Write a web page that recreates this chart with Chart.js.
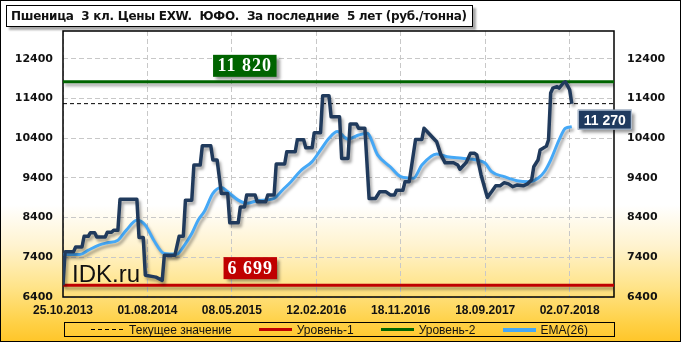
<!DOCTYPE html>
<html>
<head>
<meta charset="utf-8">
<script src="https://cdn.jsdelivr.net/npm/chart.js@4.4.1/dist/chart.umd.min.js"></script>
<style>
  html, body { margin: 0; padding: 0; }
  #wrap {
    position: relative; width: 681px; height: 342px; box-sizing: border-box;
    border: 1px solid #000; overflow: hidden;
    background: linear-gradient(to bottom, #fff 0%, #fff 60%, #fff3cf 72%, #ffe48a 84%, #ffd24a 94%, #ffc62a 100%);
    font-family: "Liberation Sans", Arial, sans-serif;
  }
  #chart { position: absolute; left: -1px; top: -1px; }
  #title {
    position: absolute; left: 5px; top: 4px; width: 467px; height: 22px; box-sizing: border-box;
    border: 1px solid #000; background: #fff; box-shadow: 3px 3px 2px rgba(0,0,0,0.35);
    font: bold 12px "DejaVu Sans", Verdana, sans-serif; letter-spacing: -0.3px; line-height: 20px; padding-left: 4px;
    white-space: pre; color: #111;
  }
  #legend {
    position: absolute; left: 63px; top: 321px; width: 551px; height: 15px; box-sizing: border-box;
    border: 1px solid #000; display: flex; align-items: center; justify-content: center; gap: 27px;
    font: 12px "Liberation Sans", Arial, sans-serif; color: #111;
  }
  .item { display: flex; align-items: center; gap: 5px; }
  .sample { width: 33px; }
</style>
</head>
<body>
<div id="wrap">
  <canvas id="chart" width="681" height="342"></canvas>
  <div id="title"></div>
  <div id="legend"></div>
</div>
<script>
const titleText = "Пшеница  3 кл. Цены EXW.  ЮФО.  За последние  5 лет (руб./тонна)";

// weekly index -> price (only the turning points of the line)
const priceIdx = [0, 1, 5, 6, 9, 10, 12, 13, 15, 16, 20, 21, 23, 24, 26, 27, 35, 36, 38, 39, 44, 47, 48, 53, 55, 57, 58, 61, 62, 65,
  66, 70, 71, 73, 75, 78, 79, 83, 84, 86, 87, 91, 92, 96, 97, 100, 101, 105, 106, 110, 111, 114, 115, 118, 119, 122, 123, 126, 127, 131,
  132, 135, 136, 139, 140, 143, 145, 148, 150, 153, 155, 157, 158, 161, 162, 164, 167, 170, 171, 174, 177, 179, 181, 185, 187, 188, 190, 191, 193, 195,
  196, 198, 201, 203, 205, 207, 209, 211, 213, 215, 218, 220, 222, 223, 225, 226, 229, 230, 231, 232, 234, 235, 237, 238, 240, 241];
const priceVal = [6699, 7540, 7540, 7660, 7660, 7930, 7930, 8020, 8020, 7910, 7910, 8030, 8030, 8080, 8080, 8860, 8860, 7900, 7900, 6950, 6900, 6820, 7450, 7450, 7930, 7930, 8840, 8840, 9725, 9725,
  10210, 10210, 9850, 9850, 9010, 9010, 8270, 8270, 8670, 8670, 8970, 8970, 8800, 8800, 8970, 8970, 9750, 9750, 10060, 10060, 10360, 10360, 10160, 10160, 10540, 10540, 11470, 11470, 10940, 10940,
  9890, 9890, 10760, 10760, 10650, 10650, 8880, 8880, 9050, 9050, 8970, 8970, 9090, 9090, 9300, 9300, 10370, 10370, 10650, 10480, 10310, 9980, 9780, 9780, 9725, 9620, 9730, 9790, 10020, 10020,
  9980, 9480, 8910, 9050, 9200, 9200, 9280, 9250, 9180, 9220, 9200, 9250, 9350, 9680, 9850, 10100, 10200, 10360, 11540, 11660, 11700, 11660, 11790, 11820, 11620, 11270];

const emaIdx = [0, 8, 12, 17, 21, 26, 30, 35, 39, 43, 48, 54, 57, 61, 64, 67, 71, 75, 78, 83, 87, 92, 100, 104, 108, 113, 118, 122, 126, 130,
  133, 135, 140, 144, 149, 155, 160, 166, 170, 177, 182, 189, 196, 200, 203, 209, 215, 221, 225, 228, 231, 235, 238, 241];
const emaVal = [7470, 7470, 7580, 7705, 7765, 7830, 8085, 8335, 8210, 7830, 7495, 7480, 7665, 8000, 8335, 8560, 9010, 9160, 9050, 8840, 8760, 8825, 8885, 9095, 9305, 9600, 9810, 10105, 10400, 10570,
  10440, 10375, 10480, 10525, 9980, 9680, 9430, 9390, 9725, 10005, 9935, 9895, 9850, 9770, 9555, 9430, 9330, 9305, 9390, 9555, 9850, 10360, 10650, 10690];

const level1 = 6699;
const level2 = 11820;
const currentValue = 11270;

const xTickIdx = [0, 40, 80, 120, 160, 200, 240];
const xTickLabels = ["25.10.2013", "01.08.2014", "08.05.2015", "12.02.2016", "18.11.2016", "18.09.2017", "02.07.2018"];
const yTicks = [6400, 7400, 8400, 9400, 10400, 11400, 12400];

const legendLabels = ["Текущее значение", "Уровень-1", "Уровень-2", "EMA(26)"];
const legendColors = ["#000000", "#c00000", "#006400", "#45a8f6"];

const X_MAX = 261;
const Y_MIN = 6400;
const Y_MAX = 13100;

const fmt = v => String(v).replace(/\B(?=(\d{3})+(?!\d))/g, " ");

document.getElementById("title").textContent = titleText;

// html legend
const legendEl = document.getElementById("legend");
legendLabels.forEach((label, i) => {
  const item = document.createElement("div");
  item.className = "item";
  const sample = document.createElement("div");
  sample.className = "sample";
  if (i === 0) {
    sample.style.height = "1px";
    sample.style.background = "repeating-linear-gradient(to right, #000 0 4px, transparent 4px 7px)";
  } else {
    sample.style.height = i === 3 ? "4px" : "3px";
    sample.style.background = legendColors[i];
  }
  const text = document.createElement("span");
  text.textContent = label;
  item.appendChild(sample);
  item.appendChild(text);
  legendEl.appendChild(item);
});

const shadowPlugin = {
  id: "shadow",
  beforeDatasetDraw(chart, args) {
    const ds = chart.data.datasets[args.index];
    chart.ctx.save();
    if (ds.shadow) {
      chart.ctx.shadowColor = "rgba(0, 0, 0, 0.35)";
      chart.ctx.shadowOffsetX = 2;
      chart.ctx.shadowOffsetY = 3;
      chart.ctx.shadowBlur = 3;
    }
  },
  afterDatasetDraw(chart) {
    chart.ctx.restore();
  },
};

const framePlugin = {
  id: "frame",
  beforeDatasetsDraw(chart) {
    const { ctx, chartArea: a } = chart;
    ctx.save();
    ctx.font = "24px 'Liberation Sans', Arial, sans-serif";
    ctx.fillStyle = "#111";
    ctx.textBaseline = "alphabetic";
    ctx.fillText("IDK.ru", a.left + 9, a.bottom - 15);
    ctx.strokeStyle = "#000";
    ctx.lineWidth = 1.5;
    ctx.strokeRect(a.left, a.top, a.right - a.left, a.bottom - a.top);
    ctx.restore();
  },
};

function drawTag(ctx, x, y, text, fill, font, spacing, padX, h) {
  ctx.save();
  ctx.font = font;
  ctx.letterSpacing = spacing;
  const w = ctx.measureText(text).width + padX * 2;
  ctx.shadowColor = "rgba(0, 0, 0, 0.4)";
  ctx.shadowOffsetX = 3;
  ctx.shadowOffsetY = 3;
  ctx.shadowBlur = 3;
  ctx.fillStyle = fill;
  ctx.fillRect(x, y, w, h);
  ctx.shadowColor = "transparent";
  ctx.fillStyle = "#fff";
  ctx.textBaseline = "middle";
  ctx.fillText(text, x + padX, y + h / 2 + 1);
  ctx.restore();
  return w;
}

const tagsPlugin = {
  id: "tags",
  afterDatasetsDraw(chart) {
    const { ctx, scales: { x, y } } = chart;
    const serif = "bold 18px 'Liberation Serif', 'Times New Roman', serif";
    // level-2 tag
    let w = 63;
    drawTag(ctx, x.getPixelForValue(86) - w / 2, y.getPixelForValue(level2) - 27, fmt(level2), "#006400", serif, "1px", 4.5, 22);
    // level-1 tag
    w = 53;
    drawTag(ctx, x.getPixelForValue(88.6) - w / 2, y.getPixelForValue(level1) - 28, fmt(level1), "#c00000", serif, "1px", 4, 22);
    // current value tag
    const lastX = x.getPixelForValue(priceIdx[priceIdx.length - 1]);
    const ty = y.getPixelForValue(currentValue) + 6;
    const tw = drawTag(ctx, lastX + 6, ty, fmt(currentValue), "#1f3a5f", "bold 14px 'Liberation Sans', Arial, sans-serif", "0px", 6, 20);
    ctx.save();
    ctx.strokeStyle = "#c8d4e4";
    ctx.lineWidth = 1;
    ctx.strokeRect(lastX + 6.5, ty + 0.5, tw - 1, 19);
    ctx.restore();
  },
};

const gridColor = "#c8c8c8";
const tickFont = { family: "'DejaVu Sans', Verdana, sans-serif", weight: "bold", size: 11 };
const setYTicks = scale => { scale.ticks = yTicks.map(v => ({ value: v })); };

const ctx = document.getElementById("chart").getContext("2d");
new Chart(ctx, {
  type: "line",
  data: {
    datasets: [
      {
        label: "price",
        data: priceIdx.map((v, i) => ({ x: v, y: priceVal[i] })),
        borderColor: "#203a5c",
        borderWidth: 3.5,
        pointRadius: 0,
        tension: 0,
        borderJoinStyle: "round",
        shadow: true,
      },
      {
        label: legendLabels[3],
        data: emaIdx.map((v, i) => ({ x: v, y: emaVal[i] })),
        borderColor: legendColors[3],
        borderWidth: 3,
        pointRadius: 0,
        cubicInterpolationMode: "monotone",
        shadow: true,
      },
      {
        label: legendLabels[0],
        data: [{ x: 0, y: currentValue }, { x: X_MAX, y: currentValue }],
        borderColor: legendColors[0],
        borderWidth: 1,
        borderDash: [4, 3],
        pointRadius: 0,
        shadow: false,
      },
      {
        label: legendLabels[2],
        data: [{ x: 0, y: level2 }, { x: X_MAX, y: level2 }],
        borderColor: legendColors[2],
        borderWidth: 3,
        pointRadius: 0,
        shadow: true,
      },
      {
        label: legendLabels[1],
        data: [{ x: 0, y: level1 }, { x: X_MAX, y: level1 }],
        borderColor: legendColors[1],
        borderWidth: 3,
        pointRadius: 0,
        shadow: true,
      },
    ],
  },
  options: {
    responsive: false,
    animation: false,
    layout: { padding: { top: 31, left: 0, right: 0, bottom: 0 } },
    plugins: { legend: { display: false }, tooltip: { enabled: false } },
    scales: {
      x: {
        type: "linear",
        min: 0,
        max: X_MAX,
        afterBuildTicks: scale => { scale.ticks = xTickIdx.map(v => ({ value: v })); },
        afterFit: scale => { scale.height = 45; },
        ticks: {
          callback: v => xTickLabels[xTickIdx.indexOf(v)],
          font: { family: "'Liberation Sans', Arial, sans-serif", weight: "bold", size: 12 },
          color: "#111",
          padding: 6,
          maxRotation: 0,
          autoSkip: false,
        },
        grid: { color: gridColor, drawTicks: false },
        border: { display: false, dash: [5, 3] },
      },
      y: {
        position: "left",
        min: Y_MIN,
        max: Y_MAX,
        afterBuildTicks: setYTicks,
        afterFit: scale => { scale.width = 63; },
        ticks: { callback: v => String(v), font: tickFont, color: "#111", padding: 10 },
        grid: { color: gridColor, drawTicks: false },
        border: { display: false, dash: [5, 3] },
      },
      y2: {
        position: "right",
        min: Y_MIN,
        max: Y_MAX,
        afterBuildTicks: setYTicks,
        afterFit: scale => { scale.width = 67; },
        ticks: { callback: v => String(v), font: tickFont, color: "#111", padding: 13 },
        grid: { display: false, drawTicks: false },
        border: { display: false },
      },
    },
  },
  plugins: [shadowPlugin, framePlugin, tagsPlugin],
});
</script>
</body>
</html>
